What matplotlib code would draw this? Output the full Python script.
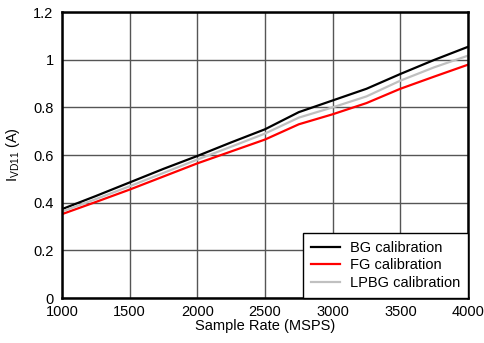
import matplotlib
matplotlib.use("Agg")
import matplotlib.pyplot as plt

plt.rcParams['font.family'] = ['Liberation Sans', 'DejaVu Sans']

rate = [1000, 1250, 1500, 1750, 2000, 2250, 2500, 2750, 3000, 3250, 3500, 3750, 4000]
bg = [0.373, 0.428, 0.485, 0.542, 0.596, 0.653, 0.708, 0.780, 0.829, 0.878, 0.940, 0.999, 1.054]
fg = [0.352, 0.403, 0.455, 0.510, 0.565, 0.615, 0.665, 0.729, 0.771, 0.818, 0.878, 0.929, 0.979]
lpbg = [0.363, 0.415, 0.469, 0.525, 0.581, 0.635, 0.690, 0.757, 0.800, 0.846, 0.912, 0.968, 1.017]

xticks = [1000, 1500, 2000, 2500, 3000, 3500, 4000]
yticks = [0, 0.2, 0.4, 0.6, 0.8, 1, 1.2]
yticklabels = ['0', '0.2', '0.4', '0.6', '0.8', '1', '1.2']

fig = plt.figure(figsize=(4.84, 3.43), dpi=100)
ax = fig.add_axes([0.128, 0.131, 0.839, 0.834])

ax.plot(rate, bg, color='black', lw=1.6, label='BG calibration')
ax.plot(rate, fg, color='#ff0000', lw=1.6, label='FG calibration')
ax.plot(rate, lpbg, color='#c0c0c0', lw=1.6, label='LPBG calibration')

ax.set_xlim(1000, 4000)
ax.set_ylim(0, 1.2)
ax.set_xticks(xticks)
ax.set_yticks(yticks)
ax.set_yticklabels(yticklabels)
ax.grid(True, color='#555555', lw=1.0)
ax.set_axisbelow(True)
for s in ax.spines.values():
    s.set_linewidth(1.8)
    s.set_color('black')
ax.tick_params(axis='y', length=0, pad=6, labelsize=10.5)
ax.tick_params(axis='x', length=0, pad=5, labelsize=10.5)

ax.set_xlabel('Sample Rate (MSPS)', fontsize=10.5, labelpad=0)
ax.set_ylabel(r'$\mathregular{I_{VD11}}$ (A)', fontsize=10.5, labelpad=8)

leg = ax.legend(loc='lower right', fontsize=10.5, frameon=True, fancybox=False,
                edgecolor='black', framealpha=1, borderaxespad=0, handlelength=2.0,
                handletextpad=0.65, labelspacing=0.25, borderpad=0.55)
leg.get_frame().set_linewidth(1.0)

fig.savefig('out.png', dpi=100)
